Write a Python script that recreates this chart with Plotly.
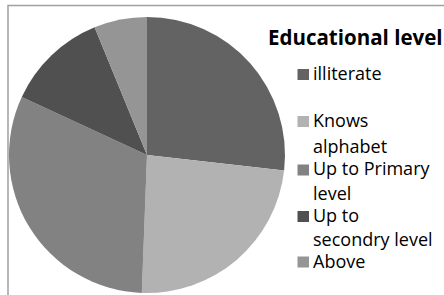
import plotly.graph_objects as go

categories = ["illiterate", "Knows alphabet", "Up to Primary level", "Up to secondry level", "Above"]
values = [26.8, 23.8, 31.3, 11.9, 6.2]
colors = ["#636363", "#b2b2b2", "#828282", "#505050", "#959595"]
legend_title = "Educational level"
# how each legend label wraps in the reference
legend_lines = [["illiterate"], ["Knows", "alphabet"], ["Up to Primary", "level"],
                ["Up to", "secondry level"], ["Above"]]

W, H = 444, 295
FONT = "Open Sans, Liberation Sans, sans-serif"


def py(px):
    return 1 - px / H


def px_x(px):
    return px / W


fig = go.Figure(go.Pie(
    labels=categories,
    values=values,
    sort=False,
    direction="clockwise",
    rotation=0,
    textinfo="none",
    hoverinfo="label+percent",
    marker=dict(colors=colors, line=dict(width=0)),
    domain=dict(x=[9 / W, 285 / W], y=[2 / H, 278 / H]),
    showlegend=False,
))

annotations = []
shapes = []

# legend title
tfs = 20.5
annotations.append(dict(text="<b>%s</b>" % legend_title, xref="paper", yref="paper",
                        x=px_x(266), y=py(45.3 - 0.388 * tfs), xanchor="left", yanchor="middle",
                        showarrow=False, font=dict(family=FONT, size=tfs, color="#000000")))

# legend entries
fs = 18
square_centers = [74.5, 121.5, 170, 216.5, 262]
line_baselines = [[80], [127, 153], [175, 200], [222, 246], [268]]
for i, lines in enumerate(legend_lines):
    c = square_centers[i]
    shapes.append(dict(type="rect", xref="paper", yref="paper",
                       x0=px_x(297.5), x1=px_x(309), y0=py(c + 5.5), y1=py(c - 5.5),
                       line=dict(width=0), fillcolor=colors[i]))
    for j, txt in enumerate(lines):
        b = line_baselines[i][j]
        annotations.append(dict(text=txt, xref="paper", yref="paper",
                                x=px_x(311), y=py(b - 0.388 * fs), xanchor="left", yanchor="middle",
                                showarrow=False, font=dict(family=FONT, size=fs, color="#000000")))

# chart border
shapes.append(dict(type="rect", xref="paper", yref="paper",
                   x0=8 / W, x1=1.02, y0=-0.05, y1=py(5.5),
                   line=dict(color="#a0a0a0", width=1.5), fillcolor="rgba(0,0,0,0)", layer="below"))

fig.update_layout(
    width=W, height=H,
    margin=dict(l=0, r=0, t=0, b=0),
    paper_bgcolor="white",
    showlegend=False,
    annotations=annotations,
    shapes=shapes,
)

fig.write_html("out.html",
               config={"displayModeBar": False},
               post_script="document.body.style.margin='0';document.body.style.overflow='hidden';")
